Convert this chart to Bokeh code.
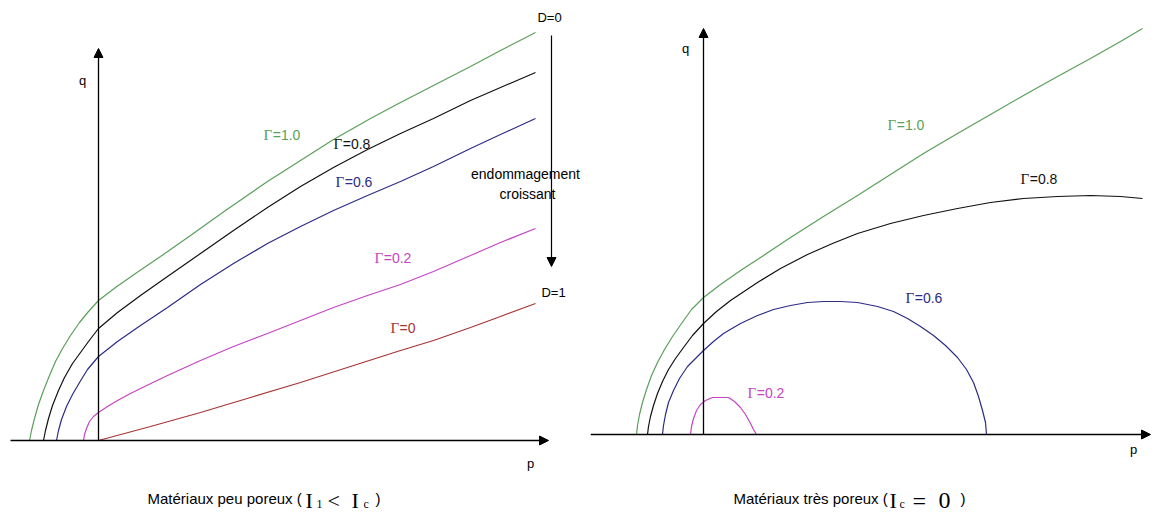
from bokeh.plotting import figure
from bokeh.layouts import row
from bokeh.models import Arrow, NormalHead, Range1d
from bokeh.core.properties import value
from bokeh.embed import file_html
from bokeh.resources import INLINE

# ---------------- data: left panel (Matériaux peu poreux) ----------------
L_G10_P = [-0.69, -0.67, -0.64, -0.60, -0.55, -0.49, -0.43, -0.36, -0.28, -0.19, -0.10, 0.00,
           0.17, 0.37, 0.62, 0.92, 1.27, 1.69, 2.02, 2.35, 2.72, 3.02, 3.35, 3.72, 4.02, 4.37]
L_G10_Q = [0.00, 0.10, 0.22, 0.36, 0.50, 0.65, 0.79, 0.92, 1.05, 1.18, 1.29, 1.40,
           1.53, 1.67, 1.84, 2.05, 2.30, 2.59, 2.80, 3.01, 3.22, 3.38, 3.55, 3.74, 3.90, 4.08]
L_G08_P = [-0.55, -0.53, -0.50, -0.46, -0.40, -0.34, -0.26, -0.18, -0.10, 0.00, 0.19, 0.42,
           0.69, 1.02, 1.35, 1.69, 2.02, 2.35, 2.69, 3.02, 3.35, 3.72, 4.02, 4.37]
L_G08_Q = [0.00, 0.10, 0.22, 0.35, 0.50, 0.63, 0.77, 0.88, 0.99, 1.12, 1.28, 1.45,
           1.64, 1.87, 2.10, 2.33, 2.54, 2.73, 2.91, 3.07, 3.22, 3.40, 3.53, 3.68]
L_G06_P = [-0.42, -0.40, -0.37, -0.32, -0.26, -0.19, -0.11, 0.00, 0.19, 0.42, 0.69, 1.02,
           1.35, 1.69, 2.02, 2.35, 2.69, 3.02, 3.35, 3.72, 4.02, 4.37]
L_G06_Q = [0.00, 0.10, 0.21, 0.34, 0.46, 0.58, 0.71, 0.84, 0.99, 1.15, 1.33, 1.56,
           1.77, 1.97, 2.14, 2.30, 2.45, 2.59, 2.74, 2.92, 3.06, 3.22]
L_G02_P = [-0.15, -0.14, -0.12, -0.09, -0.05, 0.00, 0.09, 0.19, 0.32, 0.42, 0.69, 1.02,
           1.35, 1.69, 2.02, 2.35, 2.69, 3.02, 3.35, 3.72, 4.02, 4.37]
L_G02_Q = [0.00, 0.06, 0.12, 0.19, 0.24, 0.28, 0.34, 0.40, 0.47, 0.52, 0.65, 0.80,
           0.94, 1.07, 1.20, 1.33, 1.45, 1.56, 1.69, 1.85, 1.98, 2.12]
L_G00_P = [0.00, 0.52, 1.02, 1.52, 2.02, 2.52, 3.02, 3.35, 3.72, 4.02, 4.37]
L_G00_Q = [0.00, 0.14, 0.28, 0.43, 0.58, 0.74, 0.90, 1.00, 1.13, 1.24, 1.37]

# ---------------- data: right panel (Matériaux très poreux) ----------------
R_G10_P = [-0.67, -0.66, -0.64, -0.61, -0.57, -0.52, -0.46, -0.39, -0.31, -0.22, -0.12, 0.00,
           0.17, 0.37, 0.54, 0.87, 1.20, 1.54, 1.87, 2.20, 2.54, 2.87, 3.20, 3.54, 3.87, 4.17, 4.39]
R_G10_Q = [0.00, 0.09, 0.20, 0.32, 0.45, 0.59, 0.72, 0.85, 0.98, 1.11, 1.25, 1.37,
           1.50, 1.64, 1.75, 1.97, 2.18, 2.39, 2.60, 2.81, 3.01, 3.20, 3.39, 3.58, 3.76, 3.93, 4.06]
R_G08_P = [-0.56, -0.55, -0.53, -0.50, -0.46, -0.41, -0.35, -0.28, -0.20, -0.11, 0.00, 0.13,
           0.27, 0.42, 0.54, 0.77, 1.04, 1.29, 1.54, 1.87, 2.20, 2.54, 2.87, 3.20, 3.54, 3.87, 4.17, 4.39]
R_G08_Q = [0.00, 0.08, 0.18, 0.29, 0.41, 0.53, 0.65, 0.76, 0.87, 0.99, 1.11, 1.23,
           1.34, 1.44, 1.52, 1.66, 1.80, 1.91, 2.01, 2.11, 2.19, 2.26, 2.32, 2.36, 2.38, 2.39, 2.38, 2.36]
R_G06_P = [-0.41, -0.40, -0.38, -0.35, -0.30, -0.24, -0.16, -0.08, 0.00, 0.10, 0.20, 0.37,
           0.54, 0.70, 0.87, 1.04, 1.20, 1.37, 1.54, 1.74, 1.90, 2.04, 2.17, 2.30, 2.42, 2.54,
           2.63, 2.70, 2.75, 2.79, 2.82, 2.83]
R_G06_Q = [0.00, 0.09, 0.20, 0.32, 0.44, 0.56, 0.68, 0.76, 0.84, 0.93, 1.01, 1.11,
           1.19, 1.25, 1.29, 1.32, 1.33, 1.33, 1.32, 1.28, 1.23, 1.16, 1.08, 0.99, 0.89, 0.77,
           0.65, 0.52, 0.38, 0.24, 0.12, 0.00]
R_G02_P = [-0.13, -0.12, -0.10, -0.07, -0.03, 0.02, 0.09, 0.17, 0.25, 0.31, 0.37, 0.42, 0.47, 0.50, 0.53]
R_G02_Q = [0.00, 0.08, 0.16, 0.24, 0.30, 0.34, 0.37, 0.37, 0.37, 0.33, 0.27, 0.20, 0.11, 0.05, 0.00]

# ---------------- texts ----------------
GAMMA = "Γ"
L_VALUES = ["=1.0", "=0.8", "=0.6", "=0.2", "=0"]
R_VALUES = ["=1.0", "=0.8", "=0.6", "=0.2"]
D_LABELS = ["D=0", "D=1"]
ARROW_TEXT = ["endommagement", "croissant"]
CAPTION_L = ["Matériaux peu poreux (", ")"]
CAPTION_R = ["Matériaux très poreux (", ")"]
MATH_L = ["I", "<", "I"]
SUB_L = ["1", "c"]
MATH_R = ["I", "=", "0"]
SUB_R = ["c"]

GREEN = "#5a9f5a"
BLACK = "#111111"
NAVY = "#2c2c86"
MAGENTA = "#c445c4"
RED = "#a83434"

SANS = value("Liberation Sans")
SERIF = value("Liberation Serif")
HEIGHT = 514
SANS_W = {"=": 0.584, ".": 0.278}


def make_fig(width, xr, yr):
    p = figure(width=width, height=HEIGHT, x_range=Range1d(*xr), y_range=Range1d(*yr),
               output_backend="svg", toolbar_location=None,
               x_axis_type=None, y_axis_type=None, min_border=0)
    p.grid.visible = False
    p.outline_line_color = None
    p.background_fill_color = "white"
    p.border_fill_color = "white"
    return p


def head():
    return NormalHead(size=9, fill_color="black", line_color="black")


def axes(p, x0, x1, y1):
    p.add_layout(Arrow(end=head(), x_start=x0, y_start=0, x_end=x1, y_end=0,
                       line_color="black", line_width=1.3))
    p.add_layout(Arrow(end=head(), x_start=0, y_start=0, x_end=0, y_end=y1,
                       line_color="black", line_width=1.3))


def labels(p, xs, ys, texts, color, size="14px", font=SANS, align="center", baseline="middle"):
    p.text(x=xs, y=ys, text=texts, text_color=color, text_font=font,
           text_font_size=size, text_align=align, text_baseline=baseline)


def gamma_label(p, cx, cy, rest, color):
    # serif capital gamma followed by a sans "=value", centred on (cx, cy); 1 unit = 100 px
    g_w = 0.611 * 15
    r_w = sum(SANS_W.get(ch, 0.556) for ch in rest) * 14
    split = cx + (-(g_w + r_w) / 2 + g_w) / 100.0
    labels(p, [split], [cy], [GAMMA], color, "15px", SERIF, "right")
    labels(p, [split + 0.005], [cy], [rest], color, "14px", SANS, "left")


lab_cols = [GREEN, BLACK, NAVY, MAGENTA, RED]

# ---------------- left figure ----------------
left = make_fig(590, (-0.98, 4.92), (-0.74, 4.40))
axes(left, -0.88, 4.50, 3.92)
for px, qy, col in [(L_G10_P, L_G10_Q, GREEN), (L_G08_P, L_G08_Q, BLACK),
                    (L_G06_P, L_G06_Q, NAVY), (L_G02_P, L_G02_Q, MAGENTA),
                    (L_G00_P, L_G00_Q, RED)]:
    left.line(px, qy, line_color=col, line_width=1.2)

lx = [1.83, 2.53, 2.55, 2.94, 3.04]
ly = [3.06, 2.97, 2.59, 1.83, 1.13]
for x, y, t, c in zip(lx, ly, L_VALUES, lab_cols):
    gamma_label(left, x, y, t, c)

labels(left, [-0.16], [3.60], ["q"], "black", "13px")
labels(left, [4.32], [-0.23], ["p"], "black", "13px")
labels(left, [4.51, 4.55], [4.23, 1.48], D_LABELS, "black", "13px")
labels(left, [4.27, 4.29], [2.67, 2.47], ARROW_TEXT, "black", "14px")
left.add_layout(Arrow(end=head(), x_start=4.53, y_start=4.05, x_end=4.53, y_end=1.74,
                      line_color="black", line_width=1.2))

# caption left
labels(left, [0.49], [-0.58], CAPTION_L[:1], "black", "15px", SANS, "left", "alphabetic")
labels(left, [2.77], [-0.58], CAPTION_L[1:], "black", "15px", SANS, "left", "alphabetic")
labels(left, [2.07, 2.29, 2.53], [-0.60, -0.60, -0.60], MATH_L, "black", "22px", SERIF, "left", "alphabetic")
labels(left, [2.18, 2.65], [-0.63, -0.63], SUB_L, "black", "12px", SERIF, "left", "alphabetic")

# ---------------- right figure ----------------
right = make_fig(565, (-1.13, 4.52), (-0.80, 4.34))
axes(right, -1.13, 4.47, 4.06)
for px, qy, col in [(R_G10_P, R_G10_Q, GREEN), (R_G08_P, R_G08_Q, BLACK),
                    (R_G06_P, R_G06_Q, NAVY), (R_G02_P, R_G02_Q, MAGENTA)]:
    right.line(px, qy, line_color=col, line_width=1.2)

rx = [2.02, 3.35, 2.20, 0.62]
ry = [3.10, 2.56, 1.37, 0.42]
for x, y, t, c in zip(rx, ry, R_VALUES, lab_cols):
    gamma_label(right, x, y, t, c)

labels(right, [-0.18], [3.86], ["q"], "black", "13px")
labels(right, [4.30], [-0.15], ["p"], "black", "13px")

# caption right
labels(right, [0.30], [-0.64], CAPTION_R[:1], "black", "15px", SANS, "left", "alphabetic")
labels(right, [2.57], [-0.64], CAPTION_R[1:], "black", "15px", SANS, "left", "alphabetic")
labels(right, [1.86], [-0.66], MATH_R[:1], "black", "22px", SERIF, "left", "alphabetic")
labels(right, [2.09, 2.35], [-0.66, -0.66], MATH_R[1:], "black", "24px", SERIF, "left", "alphabetic")
labels(right, [1.96], [-0.69], SUB_R, "black", "12px", SERIF, "left", "alphabetic")

layout = row(left, right)
open("out.html", "w").write(file_html(layout, INLINE))
